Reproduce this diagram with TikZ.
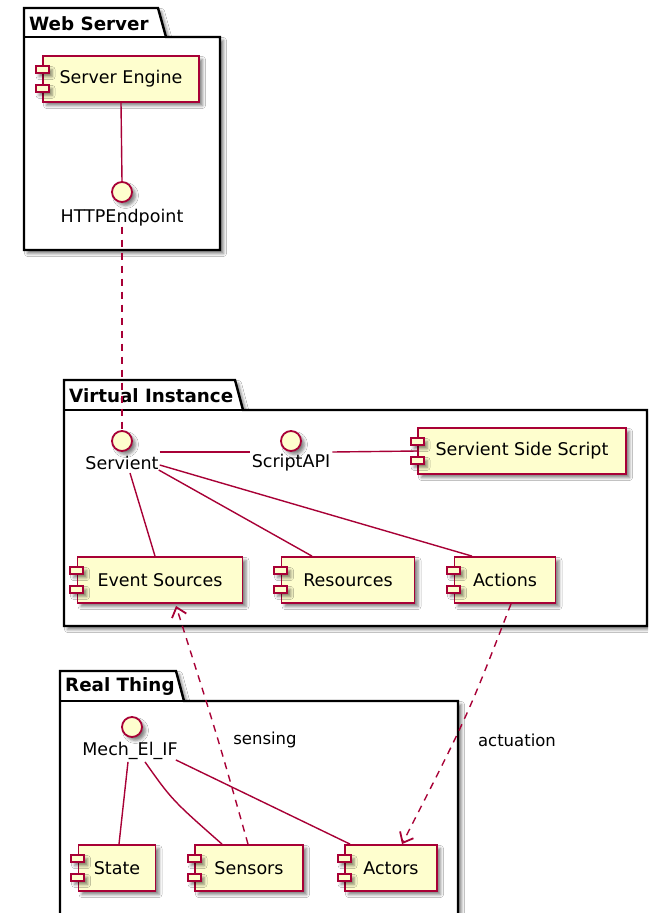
\documentclass[tikz,border=0pt]{standalone}
\usepackage{fontspec}
\setmainfont{DejaVu Sans}
\usetikzlibrary{shadows.blur,arrows.meta,calc}

\definecolor{compfill}{HTML}{FEFECE}
\definecolor{compline}{HTML}{A80036}

\tikzset{
  umlshadow/.style={blur shadow={shadow xshift=3.5pt, shadow yshift=-3.5pt,
      shadow blur radius=3pt, shadow opacity=50}},
  comp/.style={draw=compline, fill=compfill, line width=1.8pt, rectangle,
      inner sep=0pt, font=\fontsize{17.5}{21}\selectfont, umlshadow},
  compport/.style={draw=compline, fill=compfill, line width=1.8pt, umlshadow},
  iface/.style={circle, draw=compline, fill=compfill, line width=1.8pt,
      minimum size=20pt, inner sep=0pt, umlshadow},
  ifacelabel/.style={font=\fontsize{17.5}{21}\selectfont, inner sep=0pt},
  pkg/.style={draw=black, fill=white, line width=2.4pt, line join=miter, umlshadow},
  pkgtitle/.style={font=\bfseries\fontsize{18.3}{22}\selectfont, anchor=west, inner sep=0pt},
  link/.style={draw=compline, line width=1.4pt},
  dashedlink/.style={draw=compline, line width=1.4pt, dash pattern=on 7pt off 6pt},
  deplink/.style={dashedlink,
      -{Straight Barb[length=9pt, width=15pt, line width=1.8pt]}},
  deplabel/.style={font=\fontsize{16.5}{20}\selectfont, inner sep=0pt},
}

% component: name, centre x, centre y, width, height, text
\newcommand\umlcomp[6]{%
  \node[comp, minimum width=#4pt, minimum height=#5pt] (#1) at (#2,#3) {#6};
  \path[compport] ($(#1.north west)+(-6.5,11)$) rectangle ++(13,7);
  \path[compport] ($(#1.south west)+(-6.5,-18)$) rectangle ++(13,7);
}

% package: left, top, right, bottom, tab right, tab height, title
\newcommand\umlpkg[7]{%
  \path[pkg] (#1,#2+#6) -- (#1,#2) -- (#5,#2) -- (#5+8,#2+#6)
     -- (#3,#2+#6) -- (#3,#4) -- (#1,#4) -- cycle;
  \draw[line width=2.4pt] (#1,#2+#6) -- (#5+8,#2+#6);
  \node[pkgtitle] at (#1+5,#2+#6/2+1) {#7};
}

\begin{document}
\begin{tikzpicture}[x=1pt, y=-1pt]
  \useasboundingbox (0,0) rectangle (648,913);
  \clip (0,0) rectangle (648,913);
  \fill[white] (0,0) rectangle (648,913);

  % packages
  \umlpkg{24}{8}{220}{250}{158}{29}{Web Server}
  \umlpkg{64}{380}{647}{626}{235}{30}{Virtual Instance}
  \umlpkg{60}{671}{458}{940}{176}{30}{Real Thing}

  % Web Server
  \umlcomp{engine}{121}{79}{156}{46}{Server Engine}
  \node[iface] (httpc) at (122,192) {};
  \node[ifacelabel] (httpl) at (122,218) {HTTPEndpoint};

  % Virtual Instance
  \node[iface] (servc) at (122,441) {};
  \node[ifacelabel] (servl) at (122,463) {Servient};
  \node[iface] (apic) at (291,441) {};
  \node[ifacelabel] (apil) at (291,463) {ScriptAPI};
  \umlcomp{script}{522}{451}{208}{46}{Servient Side Script}
  \umlcomp{events}{160}{580}{165}{46}{Event Sources}
  \umlcomp{res}{348}{580}{133}{46}{Resources}
  \umlcomp{acts}{505}{580}{101}{46}{Actions}

  % Real Thing
  \node[iface] (mechc) at (132,727) {};
  \node[ifacelabel] (mechl) at (130,751) {Mech\_El\_IF};
  \umlcomp{state}{117}{868}{77}{46}{State}
  \umlcomp{sensors}{249}{868}{108}{46}{Sensors}
  \umlcomp{actors}{391}{868}{92}{46}{Actors}

  % connectors
  \draw[link] (engine.south) -- (httpc.north);
  \draw[dashedlink] (httpl.south) -- (servc.north);
  \draw[link] ($(servl.east)+(1,-11)$) -- ($(apil.west)+(-2,-11)$);
  \draw[link] ($(apil.east)+(2,-11)$) -- (script.west);
  \draw[link] ($(servl.south)+(8,3)$) -- ($(events.north)+(-5,0)$);
  \draw[link] (servl.south east) -- ($(res.north)+(-36,0)$);
  \draw[link] ($(servl.east)+(1,2)$) -- ($(acts.north)+(-33,0)$);

  \draw[link] ($(mechl.south)+(-2,2)$) -- ($(state.north)+(2,0)$);
  \draw[link] ($(mechl.south)+(15,2)$) .. controls (172,800) .. ($(sensors.north)+(-27,0)$);
  \draw[link] ($(mechl.south east)+(-2,0)$) -- ($(actors.north)+(-41,0)$);

  \draw[deplink] ($(sensors.north)+(-1,0)$) .. controls (218,738) .. ($(events.south)+(16,2)$);
  \draw[deplink] ($(acts.south)+(6,0)$) .. controls (468,715) .. ($(actors.north)+(11,0)$);
  \node[deplabel] (sensing) at (265,740) {sensing};
  \node[deplabel] (actuation) at (517,740) {actuation};
\end{tikzpicture}
\end{document}
